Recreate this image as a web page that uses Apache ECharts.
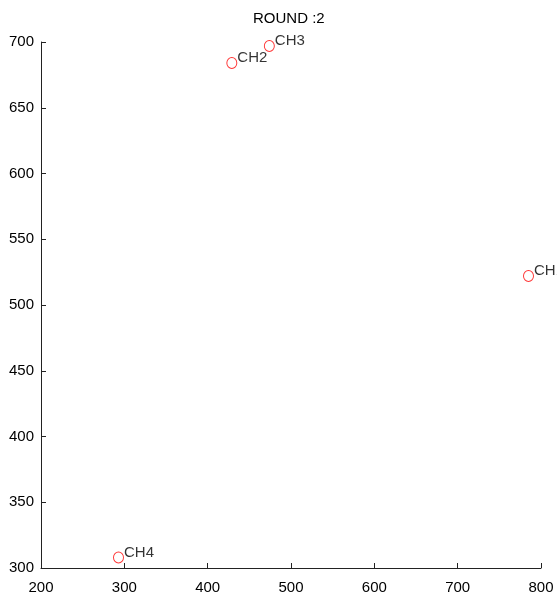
<!DOCTYPE html>
<html>
<head>
<meta charset="utf-8">
<script src="https://cdn.jsdelivr.net/npm/echarts@6/dist/echarts.min.js"></script>
<style>
  html, body { margin: 0; padding: 0; background: #fff; }
  #chart { width: 557px; height: 599px; }
</style>
</head>
<body>
<div id="chart"></div>
<script>
// channel positions
var chNames = ['CH1', 'CH2', 'CH3', 'CH4'];
var chX = [785, 429, 474, 293];
var chY = [522, 684, 697, 308];
var roundNo = 2;

var pts = [];
for (var i = 0; i < chNames.length; i++) {
    pts.push({ name: chNames[i], value: [chX[i], chY[i]] });
}

var chart = echarts.init(document.getElementById('chart'));
var fontFam = '"Liberation Sans", Arial, sans-serif';

var option = {
    animation: false,
    title: {
        text: 'ROUND :' + roundNo,
        left: 253,
        top: 11,
        padding: 0,
        textStyle: { fontFamily: fontFam, fontSize: 15, fontWeight: 'normal', color: '#000' }
    },
    grid: { left: 41, right: 16, top: 42, bottom: 31 },
    xAxis: {
        type: 'value',
        min: 200, max: 800, interval: 100,
        axisLine: { lineStyle: { color: '#222', width: 1 } },
        axisTick: { inside: true, length: 5, lineStyle: { color: '#222' } },
        axisLabel: { margin: 12, fontFamily: fontFam, fontSize: 15, color: '#000', showMaxLabel: true },
        splitLine: { show: false }
    },
    yAxis: {
        type: 'value',
        min: 300, max: 700, interval: 50,
        axisLine: { show: true, lineStyle: { color: '#222', width: 1 } },
        axisTick: { show: true, inside: true, length: 5, lineStyle: { color: '#222' } },
        axisLabel: { margin: 7, fontFamily: fontFam, fontSize: 15, color: '#000' },
        splitLine: { show: false }
    },
    series: [{
        type: 'scatter',
        data: pts,
        symbol: 'circle',
        symbolSize: [10, 11],
        itemStyle: { color: 'transparent', borderColor: '#ff0000', borderWidth: 1 },
        label: {
            show: true,
            formatter: '{b}',
            position: 'right',
            distance: 0,
            offset: [0, -5],
            fontFamily: fontFam,
            fontSize: 15,
            color: '#000'
        }
    }]
};
chart.setOption(option);
</script>
</body>
</html>
